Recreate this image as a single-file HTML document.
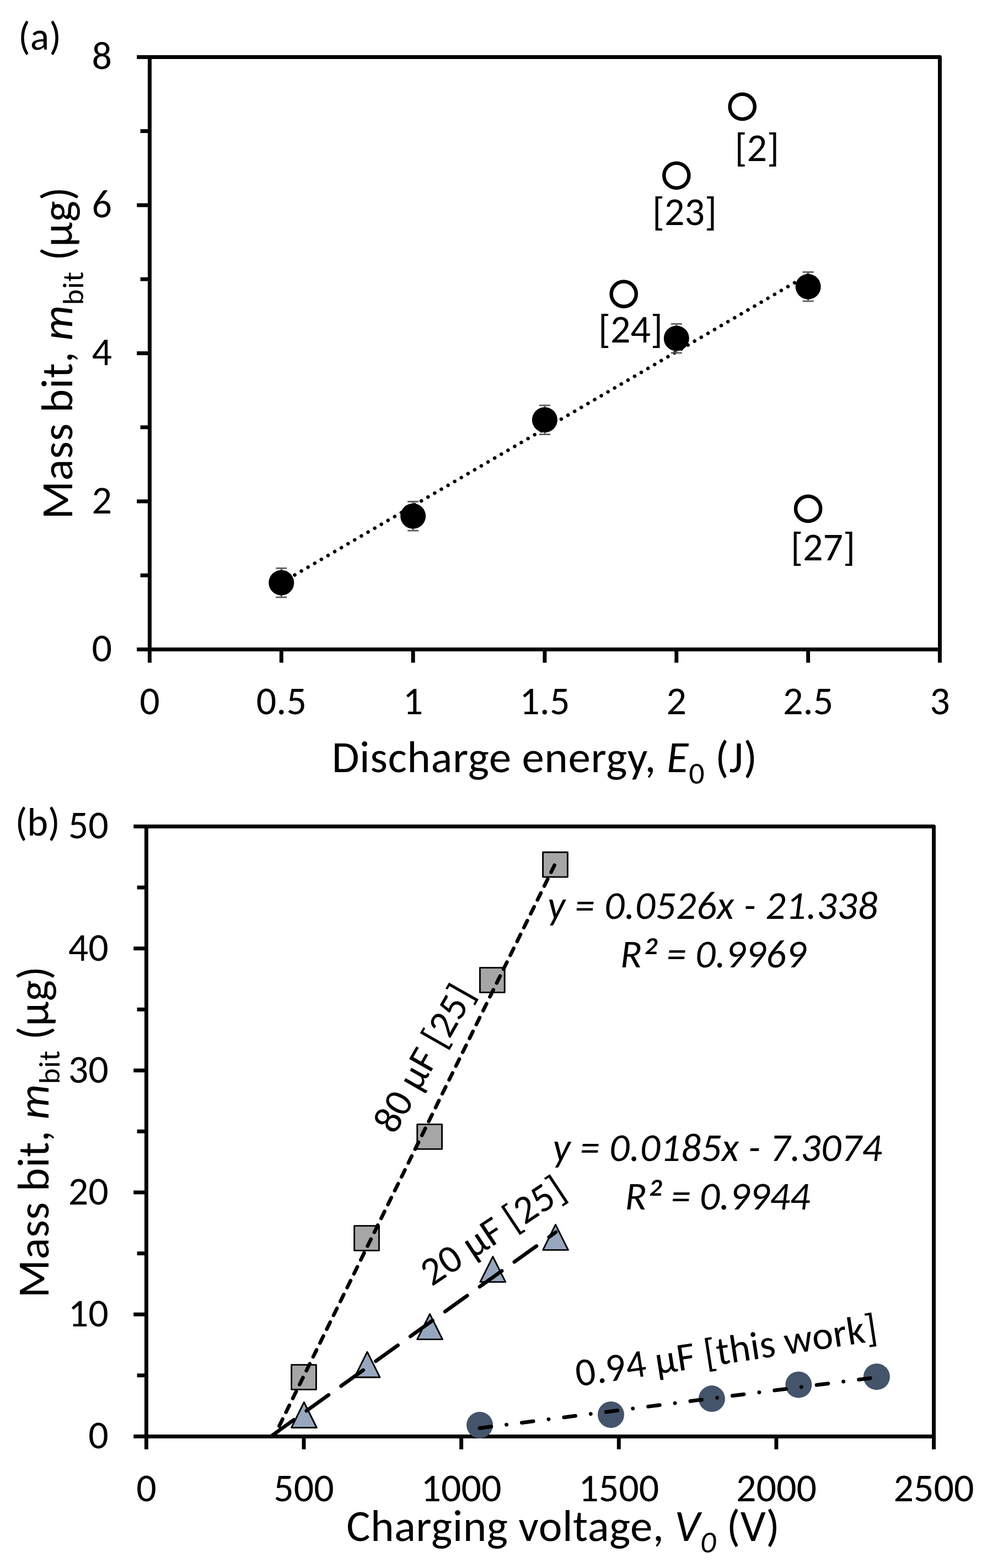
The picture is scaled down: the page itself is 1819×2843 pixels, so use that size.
<!DOCTYPE html>
<html><head><meta charset="utf-8"><title>Mass bit plots</title>
<style>html,body{margin:0;padding:0;background:#fff;}svg{display:block;}</style></head>
<body><svg width="1819" height="2843" viewBox="0 0 1819 2843" font-family="Carlito, 'Liberation Sans', Arial, sans-serif" fill="#000">
<rect width="1819" height="2843" fill="#fff"/>
<rect x="271.45" y="103.5" width="1433.0" height="1074.0" fill="none" stroke="#000" stroke-width="6.95" stroke-linejoin="round"/>
<line x1="248.2" y1="1177.5" x2="271.45" y2="1177.5" stroke="#000" stroke-width="6.95"/>
<line x1="254.6" y1="1043.2" x2="271.45" y2="1043.2" stroke="#000" stroke-width="6.95"/>
<line x1="248.2" y1="909.0" x2="271.45" y2="909.0" stroke="#000" stroke-width="6.95"/>
<line x1="254.6" y1="774.7" x2="271.45" y2="774.7" stroke="#000" stroke-width="6.95"/>
<line x1="248.2" y1="640.5" x2="271.45" y2="640.5" stroke="#000" stroke-width="6.95"/>
<line x1="254.6" y1="506.2" x2="271.45" y2="506.2" stroke="#000" stroke-width="6.95"/>
<line x1="248.2" y1="372.0" x2="271.45" y2="372.0" stroke="#000" stroke-width="6.95"/>
<line x1="254.6" y1="237.7" x2="271.45" y2="237.7" stroke="#000" stroke-width="6.95"/>
<line x1="248.2" y1="103.5" x2="271.45" y2="103.5" stroke="#000" stroke-width="6.95"/>
<line x1="271.4" y1="1177.45" x2="271.4" y2="1201.6" stroke="#000" stroke-width="6.95"/>
<line x1="510.3" y1="1177.45" x2="510.3" y2="1201.6" stroke="#000" stroke-width="6.95"/>
<line x1="749.1" y1="1177.45" x2="749.1" y2="1201.6" stroke="#000" stroke-width="6.95"/>
<line x1="987.9" y1="1177.45" x2="987.9" y2="1201.6" stroke="#000" stroke-width="6.95"/>
<line x1="1226.8" y1="1177.45" x2="1226.8" y2="1201.6" stroke="#000" stroke-width="6.95"/>
<line x1="1465.6" y1="1177.45" x2="1465.6" y2="1201.6" stroke="#000" stroke-width="6.95"/>
<line x1="1704.4" y1="1177.45" x2="1704.4" y2="1201.6" stroke="#000" stroke-width="6.95"/>
<text x="203" y="1199.2" font-size="72" text-anchor="end">0</text>
<text x="203" y="930.8" font-size="72" text-anchor="end">2</text>
<text x="203" y="662.3" font-size="72" text-anchor="end">4</text>
<text x="203" y="393.8" font-size="72" text-anchor="end">6</text>
<text x="203" y="125.3" font-size="72" text-anchor="end">8</text>
<text x="271.4" y="1295" font-size="72" text-anchor="middle">0</text>
<text textLength="91.17" x="510.3" y="1295" font-size="72" text-anchor="middle">0.5</text>
<text x="749.1" y="1295" font-size="72" text-anchor="middle">1</text>
<text textLength="91.17" x="987.9" y="1295" font-size="72" text-anchor="middle">1.5</text>
<text x="1226.8" y="1295" font-size="72" text-anchor="middle">2</text>
<text textLength="91.17" x="1465.6" y="1295" font-size="72" text-anchor="middle">2.5</text>
<text x="1704.4" y="1295" font-size="72" text-anchor="middle">3</text>
<text textLength="771.5" x="987.4" y="1400" font-size="81" text-anchor="middle">Discharge energy, <tspan font-style="italic">E</tspan><tspan font-size="56" dy="20.8">0</tspan><tspan dy="-20.8"> (J)</tspan></text>
<text textLength="602.6" transform="translate(131,640.2) rotate(-90)" x="0" y="0" font-size="81" text-anchor="middle">Mass bit, <tspan font-style="italic">m</tspan><tspan font-size="54" dy="20">bit</tspan><tspan dy="-20"> (μg)</tspan></text>
<text textLength="78.16" x="33" y="89.5" font-size="72">(a)</text>
<line x1="510.3" y1="1056.6" x2="1465.6" y2="498.2" stroke="#000" stroke-width="6.5" stroke-linecap="round" stroke-dasharray="0.1 13.9"/>
<g stroke="#5E5E5E" stroke-width="2.8"><line x1="510.3" y1="1030.3" x2="510.3" y2="1082.9"/><line x1="500.3" y1="1030.3" x2="520.3" y2="1030.3"/><line x1="500.3" y1="1082.9" x2="520.3" y2="1082.9"/></g>
<circle cx="510.3" cy="1056.6" r="23" fill="#000"/>
<g stroke="#5E5E5E" stroke-width="2.8"><line x1="749.1" y1="909.5" x2="749.1" y2="962.1"/><line x1="739.1" y1="909.5" x2="759.1" y2="909.5"/><line x1="739.1" y1="962.1" x2="759.1" y2="962.1"/></g>
<circle cx="749.1" cy="935.8" r="23" fill="#000"/>
<g stroke="#5E5E5E" stroke-width="2.8"><line x1="987.9" y1="735.0" x2="987.9" y2="787.6"/><line x1="977.9" y1="735.0" x2="997.9" y2="735.0"/><line x1="977.9" y1="787.6" x2="997.9" y2="787.6"/></g>
<circle cx="987.9" cy="761.3" r="23" fill="#000"/>
<g stroke="#5E5E5E" stroke-width="2.8"><line x1="1226.8" y1="587.3" x2="1226.8" y2="639.9"/><line x1="1216.8" y1="587.3" x2="1236.8" y2="587.3"/><line x1="1216.8" y1="639.9" x2="1236.8" y2="639.9"/></g>
<circle cx="1226.8" cy="613.6" r="23" fill="#000"/>
<g stroke="#5E5E5E" stroke-width="2.8"><line x1="1465.6" y1="493.3" x2="1465.6" y2="546.0"/><line x1="1455.6" y1="493.3" x2="1475.6" y2="493.3"/><line x1="1455.6" y1="546.0" x2="1475.6" y2="546.0"/></g>
<circle cx="1465.6" cy="519.7" r="23" fill="#000"/>
<circle cx="1131.2" cy="533.1" r="22.6" fill="none" stroke="#000" stroke-width="6.5"/>
<circle cx="1226.8" cy="318.3" r="22.6" fill="none" stroke="#000" stroke-width="6.5"/>
<circle cx="1346.2" cy="193.4" r="22.6" fill="none" stroke="#000" stroke-width="6.5"/>
<circle cx="1465.6" cy="922.4" r="22.6" fill="none" stroke="#000" stroke-width="6.5"/>
<text textLength="117.14" x="1085" y="621" font-size="72">[24]</text>
<text textLength="117.14" x="1183" y="407.8" font-size="72">[23]</text>
<text textLength="80.66" x="1332.5" y="291.8" font-size="72">[2]</text>
<text textLength="117.14" x="1434" y="1016.4" font-size="72">[27]</text>
<rect x="265.4" y="1498.5" width="1428.1" height="1105.9" fill="none" stroke="#000" stroke-width="6.95" stroke-linejoin="round"/>
<line x1="242.2" y1="2604.4" x2="265.4" y2="2604.4" stroke="#000" stroke-width="6.95"/>
<line x1="248.6" y1="2493.8" x2="265.4" y2="2493.8" stroke="#000" stroke-width="6.95"/>
<line x1="242.2" y1="2383.2" x2="265.4" y2="2383.2" stroke="#000" stroke-width="6.95"/>
<line x1="248.6" y1="2272.6" x2="265.4" y2="2272.6" stroke="#000" stroke-width="6.95"/>
<line x1="242.2" y1="2162.0" x2="265.4" y2="2162.0" stroke="#000" stroke-width="6.95"/>
<line x1="248.6" y1="2051.4" x2="265.4" y2="2051.4" stroke="#000" stroke-width="6.95"/>
<line x1="242.2" y1="1940.9" x2="265.4" y2="1940.9" stroke="#000" stroke-width="6.95"/>
<line x1="248.6" y1="1830.3" x2="265.4" y2="1830.3" stroke="#000" stroke-width="6.95"/>
<line x1="242.2" y1="1719.7" x2="265.4" y2="1719.7" stroke="#000" stroke-width="6.95"/>
<line x1="248.6" y1="1609.1" x2="265.4" y2="1609.1" stroke="#000" stroke-width="6.95"/>
<line x1="242.2" y1="1498.5" x2="265.4" y2="1498.5" stroke="#000" stroke-width="6.95"/>
<line x1="265.4" y1="2604.4" x2="265.4" y2="2627.8" stroke="#000" stroke-width="6.95"/>
<line x1="551.0" y1="2604.4" x2="551.0" y2="2627.8" stroke="#000" stroke-width="6.95"/>
<line x1="836.6" y1="2604.4" x2="836.6" y2="2627.8" stroke="#000" stroke-width="6.95"/>
<line x1="1122.3" y1="2604.4" x2="1122.3" y2="2627.8" stroke="#000" stroke-width="6.95"/>
<line x1="1407.9" y1="2604.4" x2="1407.9" y2="2627.8" stroke="#000" stroke-width="6.95"/>
<line x1="1693.5" y1="2604.4" x2="1693.5" y2="2627.8" stroke="#000" stroke-width="6.95"/>
<text x="196.7" y="2626.3" font-size="72" text-anchor="end">0</text>
<text textLength="72.98" x="196.7" y="2405.1" font-size="72" text-anchor="end">10</text>
<text textLength="72.98" x="196.7" y="2183.9" font-size="72" text-anchor="end">20</text>
<text textLength="72.98" x="196.7" y="1962.8" font-size="72" text-anchor="end">30</text>
<text textLength="72.98" x="196.7" y="1741.6" font-size="72" text-anchor="end">40</text>
<text textLength="72.98" x="196.7" y="1520.4" font-size="72" text-anchor="end">50</text>
<text x="265.4" y="2721.5" font-size="72" text-anchor="middle">0</text>
<text textLength="109.48" x="551.0" y="2721.5" font-size="72" text-anchor="middle">500</text>
<text textLength="145.97" x="836.6" y="2721.5" font-size="72" text-anchor="middle">1000</text>
<text textLength="145.97" x="1122.3" y="2721.5" font-size="72" text-anchor="middle">1500</text>
<text textLength="145.97" x="1407.9" y="2721.5" font-size="72" text-anchor="middle">2000</text>
<text textLength="145.97" x="1693.5" y="2721.5" font-size="72" text-anchor="middle">2500</text>
<text textLength="785.5" x="1021" y="2794" font-size="81" text-anchor="middle">Charging voltage, <tspan font-style="italic">V</tspan><tspan font-style="italic" font-size="56" dy="20.8">0</tspan><tspan dy="-20.8"> (V)</tspan></text>
<text textLength="601.3" transform="translate(88,2052.5) rotate(-90)" x="0" y="0" font-size="81" text-anchor="middle">Mass bit, <tspan font-style="italic">m</tspan><tspan font-size="54" dy="20">bit</tspan><tspan dy="-20"> (μg)</tspan></text>
<text textLength="81.50" x="27.4" y="1515" font-size="72">(b)</text>
<rect x="528.6" y="2474.6" width="44.8" height="44.8" fill="#A6A6A6" stroke="#000" stroke-width="2.9" stroke-linejoin="round"/>
<rect x="642.6" y="2222.6" width="44.8" height="44.8" fill="#A6A6A6" stroke="#000" stroke-width="2.9" stroke-linejoin="round"/>
<rect x="756.7" y="2038.6" width="44.8" height="44.8" fill="#A6A6A6" stroke="#000" stroke-width="2.9" stroke-linejoin="round"/>
<rect x="870.4" y="1754.6" width="44.8" height="44.8" fill="#A6A6A6" stroke="#000" stroke-width="2.9" stroke-linejoin="round"/>
<rect x="984.6" y="1545.3" width="44.8" height="44.8" fill="#A6A6A6" stroke="#000" stroke-width="2.9" stroke-linejoin="round"/>
<polygon points="551.4,2542.5 574.3,2588.5 528.5,2588.5" fill="#97A7BF" stroke="#000" stroke-width="2.9" stroke-linejoin="round"/>
<polygon points="666.0,2451.2 688.9,2497.2 643.1,2497.2" fill="#97A7BF" stroke="#000" stroke-width="2.9" stroke-linejoin="round"/>
<polygon points="779.5,2382.4 802.4,2428.4 756.6,2428.4" fill="#97A7BF" stroke="#000" stroke-width="2.9" stroke-linejoin="round"/>
<polygon points="893.8,2278.4 916.7,2324.4 870.9,2324.4" fill="#97A7BF" stroke="#000" stroke-width="2.9" stroke-linejoin="round"/>
<polygon points="1007.5,2220.4 1030.4,2266.4 984.6,2266.4" fill="#97A7BF" stroke="#000" stroke-width="2.9" stroke-linejoin="round"/>
<circle cx="870" cy="2583.8" r="24" fill="#44546A"/>
<circle cx="1108" cy="2565" r="24" fill="#44546A"/>
<circle cx="1290.9" cy="2536.1" r="24" fill="#44546A"/>
<circle cx="1448.3" cy="2510.7" r="24" fill="#44546A"/>
<circle cx="1589.9" cy="2496.2" r="24" fill="#44546A"/>
<line x1="497.15" y1="2604.36" x2="1008.01" y2="1563.93" stroke="#000" stroke-width="6.6" stroke-linecap="round" stroke-dasharray="14.1 13.87" stroke-dashoffset="7.17"/>
<line x1="491.04" y1="2604.40" x2="1008.01" y2="2234.09" stroke="#000" stroke-width="6.6" stroke-linecap="round" stroke-dasharray="49.4 27.9" stroke-dashoffset="75.0"/>
<line x1="870" y1="2589.3" x2="1589.9" y2="2497.3" stroke="#000" stroke-width="6.8" stroke-linecap="round" stroke-dasharray="20.9 28.05 0.01 28.05"/>
<text textLength="598.9" x="1292.4" y="1666.1" font-size="72" font-style="italic" text-anchor="middle">y = 0.0526x - 21.338</text>
<text textLength="337.0" x="1293.5" y="1754.2" font-size="72" font-style="italic" text-anchor="middle">R<tspan font-size="84" dy="11.5">²</tspan><tspan dy="-11.5"> = 0.9969</tspan></text>
<text textLength="597.2" x="1301" y="2105.2" font-size="72" font-style="italic" text-anchor="middle">y = 0.0185x - 7.3074</text>
<text textLength="335.4" x="1301.2" y="2192.5" font-size="72" font-style="italic" text-anchor="middle">R<tspan font-size="84" dy="11.5">²</tspan><tspan dy="-11.5"> = 0.9944</tspan></text>
<text textLength="295.36" transform="translate(769,1919.2) rotate(-60.25)" x="0" y="23" font-size="72" text-anchor="middle">80 μF [25]</text>
<text textLength="297.1" transform="translate(894,2232) rotate(-33.5)" x="0" y="23" font-size="72" text-anchor="middle">20 μF [25]</text>
<text textLength="552.6" transform="translate(1317,2449.5) rotate(-8.7)" x="0" y="23" font-size="72" text-anchor="middle">0.94 μF [this work]</text>
</svg></body></html>
